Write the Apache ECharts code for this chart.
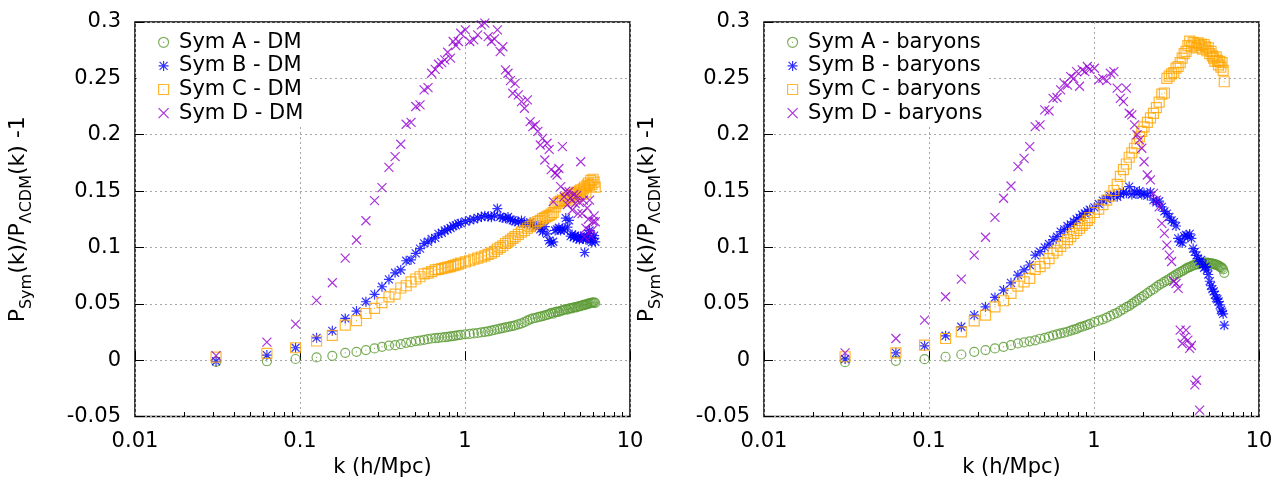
<!DOCTYPE html>
<html><head><meta charset="utf-8">
<script src="https://cdn.jsdelivr.net/npm/echarts@6/dist/echarts.min.js"></script>
<style>html,body{margin:0;padding:0;background:#fff}#c{width:1284px;height:489px}</style>
</head><body><div id="c"></div>
<script>
// ---------- data ----------
const kValues = [
0.031,0.063,0.094,0.126,0.157,0.188,0.220,0.251,0.283,0.314,
0.346,0.377,0.408,0.440,0.471,0.503,0.534,0.565,0.597,0.628,
0.660,0.691,0.723,0.754,0.785,0.817,0.848,0.880,0.911,0.942,
1.005,1.068,1.131,1.194,1.257,1.319,1.382,1.445,1.508,1.571,
1.634,1.696,1.759,1.822,1.885,1.948,2.011,2.105,2.199,2.293,
2.388,2.482,2.576,2.670,2.765,2.859,2.953,3.047,3.142,3.236,
3.330,3.424,3.519,3.613,3.707,3.801,3.896,3.990,4.084,4.178,
4.273,4.367,4.461,4.555,4.650,4.744,4.838,4.932,5.027,5.121,
5.215,5.309,5.404,5.498,5.592,5.686,5.781,5.875,5.969,6.063,
6.158];

const symA_DM = [
-0.0015,-0.0010,0.0010,0.0024,0.0038,0.0065,0.0074,0.0089,0.0104,0.0118,
0.0128,0.0133,0.0142,0.0154,0.0160,0.0169,0.0174,0.0180,0.0186,0.0192,
0.0195,0.0198,0.0201,0.0204,0.0207,0.0210,0.0214,0.0218,0.0221,0.0225,
0.0229,0.0233,0.0237,0.0241,0.0246,0.0251,0.0256,0.0262,0.0268,0.0274,
0.0280,0.0284,0.0290,0.0294,0.0299,0.0303,0.0308,0.0318,0.0327,0.0338,
0.0350,0.0362,0.0370,0.0374,0.0381,0.0386,0.0391,0.0397,0.0402,0.0408,
0.0420,0.0413,0.0426,0.0431,0.0428,0.0438,0.0442,0.0447,0.0452,0.0449,
0.0458,0.0462,0.0460,0.0467,0.0471,0.0469,0.0476,0.0480,0.0478,0.0485,
0.0490,0.0488,0.0494,0.0497,0.0501,0.0504,0.0507,0.0511,0.0509,0.0513,
0.0507];
const symB_DM = [
-0.0010,0.0045,0.0110,0.0198,0.0260,0.0370,0.0435,0.0518,0.0583,0.0651,
0.0716,0.0775,0.0800,0.0882,0.0890,0.0947,0.0990,0.1036,0.1050,0.1075,
0.1085,0.1120,0.1130,0.1150,0.1160,0.1172,0.1190,0.1195,0.1210,0.1215,
0.1230,0.1242,0.1250,0.1262,0.1270,0.1282,0.1275,0.1268,0.1285,0.1345,
0.1272,0.1262,0.1258,0.1270,0.1248,0.1240,0.1232,0.1225,0.1240,0.1215,
0.1210,0.1222,0.1195,0.1185,0.1200,0.1160,0.1140,0.1185,0.1120,0.1060,
0.1040,0.1050,0.1150,0.1160,0.1175,0.1150,0.1165,0.1155,0.1260,0.1180,
0.1240,0.1100,0.1115,0.1090,0.1105,0.1080,0.1095,0.1070,0.1100,0.1085,
0.1075,0.0955,0.1070,0.1090,0.1120,0.1150,0.1060,0.1045,0.1080,0.1105,
0.1050];
const symC_DM = [
0.0027,0.0060,0.0110,0.0170,0.0220,0.0310,0.0350,0.0414,0.0459,0.0510,
0.0562,0.0586,0.0640,0.0660,0.0695,0.0720,0.0740,0.0765,0.0772,0.0785,
0.0800,0.0805,0.0812,0.0818,0.0825,0.0830,0.0838,0.0845,0.0852,0.0860,
0.0872,0.0882,0.0895,0.0905,0.0915,0.0925,0.0938,0.0950,0.0965,0.0985,
0.1000,0.1015,0.1035,0.1050,0.1065,0.1080,0.1095,0.1115,0.1135,0.1150,
0.1170,0.1185,0.1200,0.1215,0.1230,0.1240,0.1255,0.1265,0.1275,0.1285,
0.1295,0.1310,0.1360,0.1390,0.1405,0.1410,0.1420,0.1415,0.1430,0.1445,
0.1420,0.1455,0.1470,0.1440,0.1480,0.1490,0.1455,0.1500,0.1510,0.1470,
0.1520,0.1535,0.1490,0.1550,0.1570,0.1545,0.1595,0.1560,0.1605,0.1580,
0.1535];
const symD_DM = [
0.0040,0.0160,0.0320,0.0530,0.0687,0.0905,0.1066,0.1237,0.1415,0.1530,
0.1710,0.1806,0.1915,0.2093,0.2110,0.2250,0.2265,0.2398,0.2418,0.2545,
0.2580,0.2625,0.2640,0.2664,0.2732,0.2680,0.2827,0.2790,0.2827,0.2900,
0.2930,0.2827,0.2842,0.2886,0.2975,0.2990,0.2870,0.2827,0.2850,0.2930,
0.2737,0.2780,0.2575,0.2545,0.2480,0.2368,0.2456,0.2353,0.2294,0.2235,
0.2309,0.2116,0.2072,0.2087,0.2030,0.1909,0.1968,0.1776,0.1924,0.1870,
0.1690,0.1406,0.1660,0.1643,0.1700,0.1540,0.1894,0.1450,0.1500,0.1380,
0.1495,0.1440,0.1332,0.1470,0.1390,0.1460,0.1300,0.1400,0.1760,0.1300,
0.1420,0.1095,0.1170,0.1350,0.1250,0.1420,0.1100,0.1150,0.1230,0.1280,
0.1228];

const symA_bar = [
-0.0018,-0.0006,0.0009,0.0030,0.0050,0.0074,0.0089,0.0104,0.0118,0.0133,
0.0148,0.0157,0.0167,0.0176,0.0190,0.0198,0.0208,0.0220,0.0228,0.0238,
0.0244,0.0252,0.0262,0.0270,0.0278,0.0290,0.0297,0.0305,0.0312,0.0322,
0.0338,0.0350,0.0362,0.0378,0.0392,0.0408,0.0420,0.0438,0.0452,0.0470,
0.0482,0.0500,0.0515,0.0530,0.0545,0.0560,0.0575,0.0595,0.0615,0.0630,
0.0650,0.0668,0.0680,0.0695,0.0708,0.0720,0.0735,0.0745,0.0760,0.0770,
0.0782,0.0790,0.0800,0.0812,0.0820,0.0826,0.0835,0.0840,0.0845,0.0852,
0.0850,0.0858,0.0862,0.0858,0.0865,0.0860,0.0866,0.0858,0.0862,0.0855,
0.0858,0.0850,0.0852,0.0845,0.0842,0.0838,0.0830,0.0826,0.0818,0.0805,
0.0775];
const symB_bar = [
0.0010,0.0065,0.0127,0.0216,0.0296,0.0400,0.0473,0.0556,0.0622,0.0686,
0.0755,0.0800,0.0844,0.0932,0.0962,0.1000,0.1030,0.1070,0.1095,0.1140,
0.1160,0.1190,0.1205,0.1228,0.1250,0.1265,0.1290,0.1302,0.1320,0.1335,
0.1355,0.1385,0.1415,0.1430,0.1455,0.1465,0.1450,0.1470,0.1490,0.1480,
0.1540,0.1470,0.1500,0.1475,0.1500,0.1470,0.1480,0.1460,0.1490,0.1420,
0.1400,0.1410,0.1360,0.1320,0.1300,0.1270,0.1240,0.1225,0.1190,0.1080,
0.1050,0.1040,0.1100,0.1110,0.1095,0.1120,0.1080,0.0990,0.0960,0.0930,
0.0900,0.0875,0.0890,0.0850,0.0820,0.0830,0.0800,0.0760,0.0700,0.0660,
0.0630,0.0610,0.0580,0.0550,0.0540,0.0520,0.0490,0.0445,0.0430,0.0410,
0.0310];
const symC_bar = [
0.0030,0.0065,0.0133,0.0192,0.0251,0.0349,0.0400,0.0473,0.0527,0.0592,
0.0657,0.0695,0.0725,0.0805,0.0830,0.0860,0.0900,0.0950,0.0975,0.1010,
0.1040,0.1070,0.1095,0.1125,0.1150,0.1170,0.1195,0.1213,0.1240,0.1265,
0.1310,0.1340,0.1380,0.1420,0.1455,0.1505,0.1560,0.1630,0.1690,0.1740,
0.1800,0.1840,0.1880,0.1920,0.1980,0.2030,0.2070,0.2110,0.2150,0.2190,
0.2240,0.2290,0.2360,0.2370,0.2500,0.2520,0.2540,0.2550,0.2590,0.2605,
0.2640,0.2680,0.2720,0.2740,0.2790,0.2830,0.2780,0.2820,0.2805,0.2770,
0.2815,0.2790,0.2805,0.2760,0.2800,0.2780,0.2745,0.2770,0.2720,0.2740,
0.2700,0.2680,0.2650,0.2690,0.2660,0.2620,0.2650,0.2600,0.2640,0.2570,
0.2470];
const symD_bar = [
0.0065,0.0192,0.0355,0.0562,0.0719,0.0932,0.1090,0.1267,0.1436,0.1545,
0.1717,0.1790,0.1894,0.2072,0.2087,0.2220,0.2210,0.2323,0.2330,0.2398,
0.2456,0.2440,0.2516,0.2500,0.2560,0.2430,0.2575,0.2560,0.2605,0.2580,
0.2590,0.2487,0.2500,0.2480,0.2545,0.2560,0.2413,0.2323,0.2294,0.2413,
0.2190,0.2176,0.2087,0.2000,0.1954,0.1880,0.1760,0.1643,0.1600,0.1480,
0.1420,0.1360,0.1213,0.1125,0.1020,0.0932,0.0875,0.0700,0.0680,0.0637,
0.0266,0.0148,0.0200,0.0266,0.0178,0.0104,0.0130,null,-0.0220,-0.0178,
null,-0.0444,null,null,null,null,null,null,null,null,
null,null,null,null,null,null,null,null,null,null,
null];

const namesDM  = ['Sym A - DM','Sym B - DM','Sym C - DM','Sym D - DM'];
const namesBar = ['Sym A - baryons','Sym B - baryons','Sym C - baryons','Sym D - baryons'];
const xTickLabels = ['0.01','0.1','1','10'];
const xMinorTicks = [0.02,0.03,0.04,0.05,0.06,0.07,0.08,0.09,0.2,0.3,0.4,0.5,0.6,0.7,0.8,0.9,2,3,4,5,6,7,8,9];
const yTickLabels = ['-0.05','0','0.05','0.1','0.15','0.2','0.25','0.3'];
const xTitle = 'k (h/Mpc)';

// ---------- style ----------
const FONT = 'DejaVu Sans';
const FS = 21;
const COLORS = ['#5a9a32','#0000ff','#ffa500','#9400d3'];
const SYMBOLS = [
  'path://M0,5A5,5,0,1,1,10,5A5,5,0,1,1,0,5ZM4.5,5L5.5,5',
  'path://M0,5L10,5M5,0L5,10M1,1L9,9M9,1L1,9',
  'path://M0,0L10,0L10,10L0,10ZM4.5,5L5.5,5',
  'path://M0,0L10,10M10,0L0,10'
];
const SIZES = [9,10,10,9];
const GRIDS = [{left:135, top:22, width:495, height:394.5},{left:764, top:22, width:495, height:394.5}];

function pairs(arr){const out=[];kValues.forEach((k,i)=>{if(arr[i]!==null&&arr[i]!==undefined)out.push([k,arr[i]]);});return out;}

const grid = GRIDS.map(g=>Object.assign({show:true,borderColor:'#000',borderWidth:1.5,backgroundColor:'transparent',containLabel:false,outerBoundsMode:'none'},g));

const xAxis=[], yAxis=[];
[0,1].forEach(gi=>{
  xAxis.push({
    type:'log', logBase:10, gridIndex:gi, min:0.01, max:10, position:'bottom',
    axisLine:{show:false},
    axisTick:{show:true,inside:true,length:9,lineStyle:{color:'#000',width:1}},
    axisLabel:{show:true,showMinLabel:true,showMaxLabel:true,hideOverlap:false,margin:15,color:'#000',fontFamily:FONT,fontSize:FS,
      formatter:v=>xTickLabels[Math.round(Math.log10(v))+2]},
    splitLine:{show:true,lineStyle:{color:'#a6a6a6',width:1,type:[2,3]}},
    minorTick:{show:false},
    name:xTitle, nameLocation:'middle', nameGap:41, nameMoveOverlap:false,
    nameTextStyle:{color:'#000',fontFamily:FONT,fontSize:FS}
  });
  xAxis.push({
    type:'log', logBase:10, gridIndex:gi, min:0.01, max:10, position:'bottom', offset:0,
    axisLine:{show:false}, axisLabel:{show:false}, splitLine:{show:false},
    axisTick:{show:true,inside:true,length:4.5,customValues:xMinorTicks,lineStyle:{color:'#000',width:1}}
  });
  yAxis.push({
    type:'value', gridIndex:gi, min:-0.05, max:0.3, interval:0.05,
    axisLine:{show:false},
    axisTick:{show:true,inside:true,length:9,lineStyle:{color:'#000',width:1}},
    axisLabel:{show:true,showMinLabel:true,showMaxLabel:true,margin:14,color:'#000',fontFamily:FONT,fontSize:FS,
      formatter:v=>yTickLabels[Math.round((v+0.05)/0.05)]},
    splitLine:{show:true,lineStyle:{color:'#a6a6a6',width:1,type:[2,3]}},
    name:'{m|P}{s|Sym}{m|(k)/P}{s|ΛCDM}{m|(k) -1}',
    nameLocation:'middle', nameGap:100, nameMoveOverlap:false,
    nameTextStyle:{color:'#000',fontFamily:FONT,fontSize:22,
      rich:{m:{fontFamily:FONT,fontSize:22,color:'#000',lineHeight:22,verticalAlign:'top'},
            s:{fontFamily:FONT,fontSize:16,color:'#000',lineHeight:28,verticalAlign:'bottom'}}}
  });
});

const panels = [
  {names:namesDM, data:[symA_DM,symB_DM,symC_DM,symD_DM]},
  {names:namesBar, data:[symA_bar,symB_bar,symC_bar,symD_bar]}
];
const series=[];
panels.forEach((p,gi)=>{
  p.data.forEach((arr,si)=>{
    series.push({
      type:'scatter', name:p.names[si], xAxisIndex:gi*2, yAxisIndex:gi,
      data:pairs(arr), symbol:SYMBOLS[si], symbolSize:SIZES[si], symbolKeepAspect:true,
      itemStyle:{color:'transparent',borderColor:COLORS[si],borderWidth:1.2},
      emphasis:{disabled:true}, silent:true, clip:true, animation:false
    });
  });
});

const legend = [0,1].map(gi=>({
  data:panels[gi].names, orient:'vertical', left:GRIDS[gi].left+1.5, top:23.5,
  padding:[7,4,2,21.5], itemWidth:21, itemHeight:10, itemGap:0,
  backgroundColor:'#fff', selectedMode:false,
  itemStyle:{borderWidth:1.2},
  textStyle:{color:'#000',fontFamily:FONT,fontSize:FS,lineHeight:23.6}
}));

const chart = echarts.init(document.getElementById('c'), null, {renderer:'canvas'});
chart.setOption({animation:false, backgroundColor:'#fff', grid, xAxis, yAxis, series, legend});
</script></body></html>
